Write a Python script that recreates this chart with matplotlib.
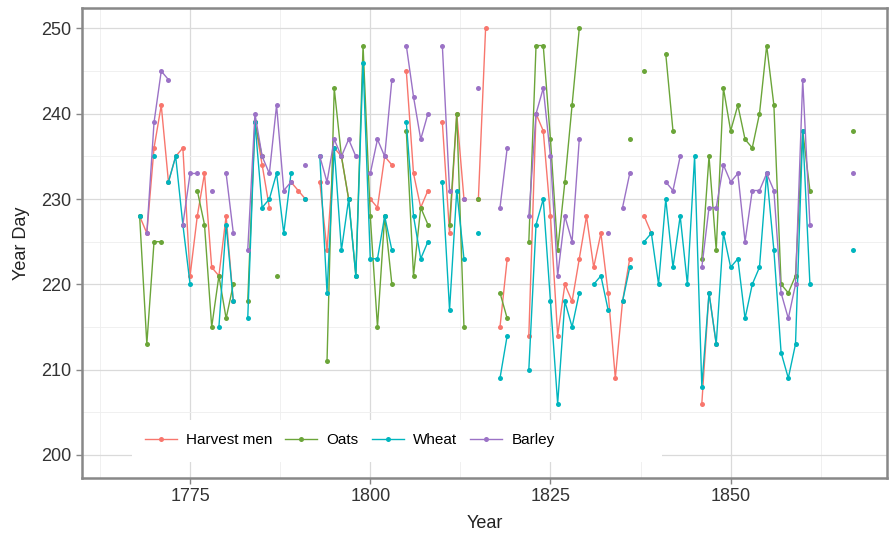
import numpy as np
import matplotlib
matplotlib.use("Agg")
import matplotlib.pyplot as plt
from matplotlib.ticker import MultipleLocator
from matplotlib.patches import Rectangle

N = np.nan
years = list(range(1768, 1868))

harvest_men = [
    228, 226, 236, 241, 232, 235, 236, 221, 228, 233,   # 1768-1777
    222, 221, 228, 218, N, N, 239, 234, 229, N,         # 1778-1787
    N, 232, 231, 230, N, 232, 224, 236, 235, 230,       # 1788-1797
    N, N, 230, 229, 235, 234, N, 245, 233, 229,         # 1798-1807
    231, N, 239, 226, 240, 230, N, 230, 250, N,         # 1808-1817
    215, 223, N, N, 214, 240, 238, 228, 214, 220,       # 1818-1827
    218, 223, 228, 222, 226, 219, 209, 218, 223, N,     # 1828-1837
    228, 226, N, N, N, N, N, N, 206, 219,               # 1838-1847
    213, N, N, N, N, N, N, N, N, N,                     # 1848-1857
    N, N, N, N, N, N, N, N, N, N,                       # 1858-1867
]
oats = [
    228, 213, 225, 225, N, N, N, N, 231, 227,
    215, 221, 216, 220, N, 218, 239, 235, N, 221,
    N, N, N, N, N, N, 211, 243, 235, 230,
    221, 248, 228, 215, 228, 220, N, 238, 221, 229,
    227, N, N, 227, 240, 215, N, 230, N, N,
    219, 216, N, N, 225, 248, 248, 237, 224, 232,
    241, 250, N, N, N, N, N, N, 237, N,
    245, N, N, 247, 238, N, N, N, 223, 235,
    224, 243, 238, 241, 237, 236, 240, 248, 241, 220,
    219, 221, 238, 231, N, N, N, N, N, 238,
]
wheat = [
    228, N, 235, N, 232, 235, 227, 220, N, N,
    N, 215, 227, 218, N, 216, 239, 229, 230, 233,
    226, 233, N, 230, N, 235, 219, 236, 224, 230,
    221, 246, 223, 223, 228, 224, N, 239, 228, 223,
    225, N, 232, 217, 231, 223, N, 226, N, N,
    209, 214, N, N, 210, 227, 230, 218, 206, 218,
    215, 219, N, 220, 221, 217, N, 218, 222, N,
    225, 226, 220, 230, 222, 228, 220, 235, 208, 219,
    213, 226, 222, 223, 216, 220, 222, 233, 224, 212,
    209, 213, 238, 220, N, N, N, N, N, 224,
]
barley = [
    N, 226, 239, 245, 244, N, 227, 233, 233, N,
    231, N, 233, 226, N, 224, 240, 235, 233, 241,
    231, 232, N, 234, N, 235, 232, 237, 235, 237,
    235, N, 233, 237, 235, 244, N, 248, 242, 237,
    240, N, 248, 231, N, 230, N, 243, N, N,
    229, 236, N, N, 228, 240, 243, 235, 221, 228,
    225, 237, N, N, N, 226, N, 229, 233, N,
    N, N, N, 232, 231, 235, N, N, 222, 229,
    229, 234, 232, 233, 225, 231, 231, 233, 231, 219,
    216, 220, 244, 227, N, N, N, N, N, 233,
]

series_names = ["Harvest men", "Oats", "Wheat", "Barley"]
series_values = [harvest_men, oats, wheat, barley]
series_colors = ["#F8766D", "#6BA539", "#00B5BE", "#9B72C6"]

plt.rcParams["font.family"] = ["Liberation Sans", "DejaVu Sans"]

fig = plt.figure(figsize=(8.89, 5.34), dpi=100)
ax = fig.add_axes([0.0922, 0.105, 0.9056, 0.880])

for name, vals, col in zip(series_names, series_values, series_colors):
    ax.plot(years, vals, color=col, lw=1.0, marker="o", ms=3.6,
            markeredgewidth=0, label=name, zorder=3)

ax.set_xlim(1760.0, 1871.7)
ax.set_ylim(197.3, 252.4)
ax.xaxis.set_major_locator(MultipleLocator(25))
ax.xaxis.set_minor_locator(MultipleLocator(12.5))
ax.yaxis.set_major_locator(MultipleLocator(10))
ax.yaxis.set_minor_locator(MultipleLocator(5))
ax.grid(which="major", color="#dadada", lw=0.9, zorder=0)
ax.grid(which="minor", color="#eeeeee", lw=0.6, zorder=0)
ax.set_axisbelow(True)
ax.tick_params(which="minor", length=0)
ax.tick_params(which="major", length=4, color="#888888", width=1,
               labelsize=13, labelcolor="#333333")
for sp in ax.spines.values():
    sp.set_color("#888888")
    sp.set_linewidth(1.8)

ax.set_xlabel("Year", fontsize=13, color="#222222", labelpad=7)
ax.set_ylabel("Year Day", fontsize=13, color="#222222", labelpad=8)

# white legend background box
ax.add_patch(Rectangle((0.062, 0.034), 0.6585, 0.089, transform=ax.transAxes,
                       facecolor="white", edgecolor="none", zorder=4))
leg = ax.legend(loc="center left", bbox_to_anchor=(0.078, 0.081), ncol=4,
                frameon=False, fontsize=11, handlelength=2.1,
                columnspacing=0.85, borderpad=0.0, handletextpad=0.6,
                borderaxespad=0.0)
leg.set_zorder(5)

fig.savefig("out.png", dpi=100)
